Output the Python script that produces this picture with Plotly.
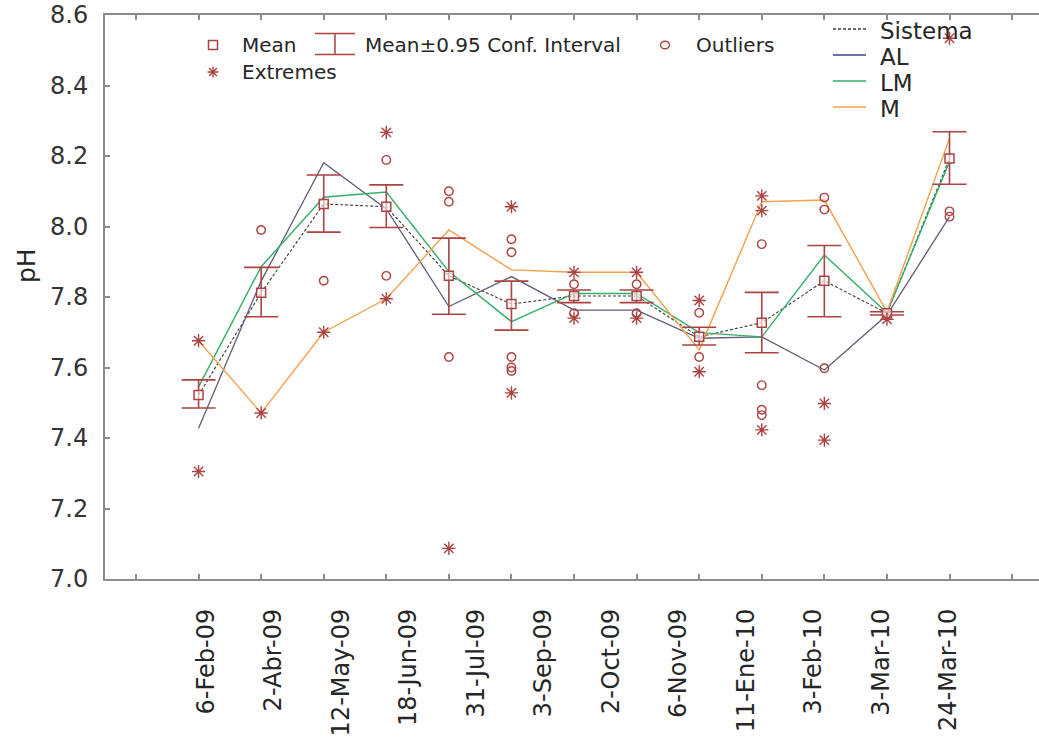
import plotly.graph_objects as go

# ---- data -------------------------------------------------------------
date_labels = ["6-Feb-09", "2-Abr-09", "12-May-09", "18-Jun-09", "31-Jul-09",
               "3-Sep-09", "2-Oct-09", "6-Nov-09", "11-Ene-10", "3-Feb-10",
               "3-Mar-10", "24-Mar-10"]

sample_no = list(range(1, 14))

mean_ph = [7.522, 7.812, 8.064, 8.056, 7.860, 7.780, 7.803, 7.803,
           7.687, 7.727, 7.846, 7.754, 8.193]
ci_low = [7.485, 7.744, 7.984, 7.997, 7.751, 7.706, 7.784, 7.784,
          7.664, 7.642, 7.744, 7.749, 8.120]
ci_high = [7.565, 7.884, 8.146, 8.118, 7.967, 7.845, 7.820, 7.820,
           7.714, 7.813, 7.946, 7.758, 8.269]

al_ph = [7.428, 7.845, 8.181, 8.050, 7.773, 7.858, 7.763, 7.763,
         7.683, 7.687, 7.593, 7.749, 8.028]
lm_ph = [7.545, 7.886, 8.083, 8.098, 7.872, 7.730, 7.810, 7.810,
         7.699, 7.687, 7.919, 7.755, 8.184]
m_ph = [7.676, 7.471, 7.700, 7.795, 7.990, 7.877, 7.870, 7.870,
        7.650, 8.070, 8.075, 7.758, 8.250]

outlier_sample = [2, 3, 4, 4, 5, 5, 5, 6, 6, 6, 6, 6, 7, 7, 8, 8,
                  9, 9, 10, 10, 10, 10, 11, 11, 11, 13, 13]
outlier_ph = [7.990, 7.846, 8.189, 7.860, 8.100, 8.070, 7.630,
              7.964, 7.927, 7.630, 7.600, 7.590, 7.836, 7.754, 7.836, 7.754,
              7.755, 7.630, 7.950, 7.550, 7.480, 7.465, 8.082, 8.048, 7.598,
              8.043, 8.028]

extreme_sample = [1, 1, 2, 3, 4, 4, 5, 6, 6, 7, 7, 8, 8, 9, 9,
                  10, 10, 10, 11, 11, 12, 13]
extreme_ph = [7.676, 7.305, 7.471, 7.700, 8.267, 7.795, 7.087, 8.056, 7.528,
              7.870, 7.740, 7.870, 7.740, 7.790, 7.588, 8.087, 8.045, 7.423,
              7.498, 7.394, 7.737, 8.534]

# ---- styling ----------------------------------------------------------
RED = "#ad4242"
AXIS = "#8c8c8c"
TXT = "#262626"
C_SIS = "#3c3c3c"
C_AL = "#5d5d78"
C_LM = "#34ae66"
C_M = "#f4a04c"
FONT = "DejaVu Sans"

W, H = 1039, 740
L, R, T, B = 105, 0, 15, 161
PW, PH = W - L - R, H - T - B


def fx(px):
    return (px - L) / PW


def fy(py):
    return (H - B - py) / PH


fig = go.Figure()

# series lines
fig.add_trace(go.Scatter(x=sample_no, y=mean_ph, mode="lines", name="Sistema",
                         line=dict(color=C_SIS, width=1.1, dash="3px,2px"),
                         showlegend=False))
fig.add_trace(go.Scatter(x=sample_no, y=al_ph, mode="lines", name="AL",
                         line=dict(color=C_AL, width=1.3), showlegend=False))
fig.add_trace(go.Scatter(x=sample_no, y=lm_ph, mode="lines", name="LM",
                         line=dict(color=C_LM, width=1.4), showlegend=False))
fig.add_trace(go.Scatter(x=sample_no, y=m_ph, mode="lines", name="M",
                         line=dict(color=C_M, width=1.4), showlegend=False))

# mean with confidence interval
err_up = [h - m for h, m in zip(ci_high, mean_ph)]
err_dn = [m - l for m, l in zip(mean_ph, ci_low)]
fig.add_trace(go.Scatter(
    x=sample_no, y=mean_ph, mode="markers", name="Mean",
    marker=dict(symbol="square", size=9, color="rgba(255,255,255,0.6)",
                line=dict(color=RED, width=1.5)),
    error_y=dict(type="data", symmetric=False, array=err_up,
                 arrayminus=err_dn, color=RED, thickness=1.6, width=17),
    showlegend=False))

# outliers and extremes
fig.add_trace(go.Scatter(
    x=outlier_sample, y=outlier_ph, mode="markers", name="Outliers",
    marker=dict(symbol="circle-open", size=8.5, color=RED,
                line=dict(width=1.4)),
    showlegend=False))
fig.add_trace(go.Scatter(
    x=extreme_sample, y=extreme_ph, mode="markers", name="Extremes",
    marker=dict(symbol="asterisk-open", size=11, color=RED,
                line=dict(width=1.4, color=RED)),
    showlegend=False))

# date labels live on an overlaid category axis
fig.add_trace(go.Scatter(x=date_labels, y=[None] * len(date_labels),
                         xaxis="x2", mode="markers", showlegend=False,
                         hoverinfo="skip"))

# ---- legend keys (pixel-sized shapes) -----------------------------------
shapes = []
ann = []


def key_shape(kind, cx, cy, **kw):
    d = dict(type=kind, xref="paper", yref="paper",
             xsizemode="pixel", ysizemode="pixel",
             xanchor=fx(cx), yanchor=fy(cy))
    d.update(kw)
    shapes.append(d)


def key_text(text, x, y, size):
    ann.append(dict(text=text, x=fx(x), y=fy(y), xref="paper", yref="paper",
                    xanchor="left", yanchor="middle", showarrow=False,
                    font=dict(family=FONT, size=size, color=TXT)))


key_shape("rect", 213, 45, x0=-4.5, x1=4.5, y0=-4.5, y1=4.5,
          line=dict(color=RED, width=1.5), fillcolor="white")
key_text("Mean", 240, 45, 20)
key_shape("path", 335, 44, path="M-20,-10.5H20M0,-10.5V10.5M-20,10.5H20",
          line=dict(color=RED, width=1.5))
key_text("Mean±0.95 Conf. Interval", 363, 45, 20)
key_shape("circle", 665, 45, x0=-4.5, x1=4.5, y0=-3.8, y1=3.8,
          line=dict(color=RED, width=1.4))
key_text("Outliers", 694, 45, 20)
key_shape("path", 213, 72,
          path="M-5.5,0H5.5M0,-5.5V5.5M-3.9,-3.9L3.9,3.9M-3.9,3.9L3.9,-3.9",
          line=dict(color=RED, width=1.4))
key_text("Extremes", 240, 72, 20)

for label, color, dash, yy in [("Sistema", C_SIS, "3px,2px", 29),
                               ("AL", "#3f3f88", "solid", 55),
                               ("LM", C_LM, "solid", 81),
                               ("M", C_M, "solid", 107)]:
    shapes.append(dict(type="line", xref="paper", yref="paper",
                       x0=fx(833), x1=fx(866), y0=fy(yy), y1=fy(yy),
                       line=dict(color=color, width=1.3, dash=dash)))
    key_text(label, 878, yy + 2, 23)

# y axis title
ann.append(dict(text="pH", x=fx(26), y=fy(266), xref="paper", yref="paper",
                xanchor="center", yanchor="middle", showarrow=False,
                textangle=-90, font=dict(family=FONT, size=25, color=TXT)))

fig.update_layout(
    width=W, height=H,
    margin=dict(l=L, r=R, t=T, b=B, pad=0),
    paper_bgcolor="white", plot_bgcolor="white",
    font=dict(family=FONT, color=TXT),
    showlegend=False,
    shapes=shapes, annotations=ann,
    xaxis=dict(range=[-0.495, 14.43], tick0=0, dtick=1,
               showticklabels=False, ticks="inside", ticklen=5,
               tickwidth=1.5, tickcolor=AXIS, showline=True,
               linecolor=AXIS, linewidth=2, mirror="ticks",
               showgrid=False, zeroline=False, automargin=False),
    xaxis2=dict(overlaying="x", anchor="y", side="bottom", type="category",
                range=[-1.496, 12.341], showline=False, ticks="",
                showgrid=False, zeroline=False, tickangle=-90,
                ticklabelstandoff=24, automargin=False,
                tickfont=dict(family=FONT, size=24, color=TXT)),
    yaxis=dict(range=[7.0, 8.6], tick0=7.0, dtick=0.2, tickformat=".1f",
               ticks="inside", ticklen=5, tickwidth=1.5, tickcolor=AXIS,
               showline=True, linecolor=AXIS, linewidth=2, mirror=False,
               showgrid=False, zeroline=False, ticklabelstandoff=10,
               automargin=False,
               tickfont=dict(family=FONT, size=24, color="#333333")),
)

fig.write_html("out.html")
